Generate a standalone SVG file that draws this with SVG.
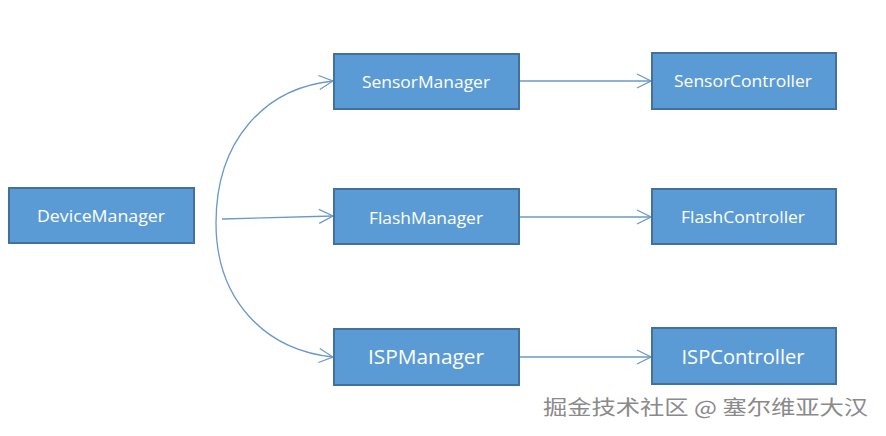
<svg xmlns="http://www.w3.org/2000/svg" width="886" height="436" viewBox="0 0 886 436">
<defs>
<marker id="arr" viewBox="0 0 16 16" refX="15" refY="8" markerWidth="16" markerHeight="16" markerUnits="userSpaceOnUse" orient="auto">
<path d="M1,1 L15,8 L1,15" fill="none" stroke="#6A99C9" stroke-width="1.2"/>
</marker>
</defs>
<style>
.box{fill:#5B9BD5;stroke:#41719C;stroke-width:2}
.lbl{font-family:"Open Sans","Liberation Sans",sans-serif;fill:#fff;text-anchor:middle}
.s{font-size:17px}
.l{font-size:20px}
.con{fill:none;stroke:#6A99C9;stroke-width:1.3}
.wm{font-family:"Noto Sans CJK SC","Liberation Sans",sans-serif;font-size:20px;fill:#8a8a8a;stroke:#fff;stroke-width:0.6;paint-order:stroke}
</style>
<rect width="886" height="436" fill="#fff"/>
<g id="connectors">
<path class="con" d="M216,223 C216,140 265,88 333,81" marker-end="url(#arr)"/>
<path class="con" d="M222,219 L333,216" marker-end="url(#arr)"/>
<path class="con" d="M216,223 C216,300 265,350 333,357" marker-end="url(#arr)"/>
<path class="con" d="M519,81 L651,81" marker-end="url(#arr)"/>
<path class="con" d="M519,217 L651,217" marker-end="url(#arr)"/>
<path class="con" d="M519,357 L651,357" marker-end="url(#arr)"/>
</g>
<g id="DeviceManager"><rect class="box" x="9" y="188" width="185" height="55"/><text class="lbl s" x="101" y="222" textLength="128" lengthAdjust="spacingAndGlyphs">DeviceManager</text></g>
<g id="SensorManager"><rect class="box" x="334" y="54" width="185" height="55"/><text class="lbl s" x="426" y="88" textLength="128" lengthAdjust="spacingAndGlyphs">SensorManager</text></g>
<g id="FlashManager"><rect class="box" x="334" y="189" width="185" height="55"/><text class="lbl s" x="426" y="224" textLength="114" lengthAdjust="spacingAndGlyphs">FlashManager</text></g>
<g id="ISPManager"><rect class="box" x="334" y="329" width="185" height="56"/><text class="lbl l" x="426" y="364" textLength="116" lengthAdjust="spacingAndGlyphs">ISPManager</text></g>
<g id="SensorController"><rect class="box" x="652" y="53" width="184" height="56"/><text class="lbl s" x="743" y="87" textLength="138" lengthAdjust="spacingAndGlyphs">SensorController</text></g>
<g id="FlashController"><rect class="box" x="652" y="189" width="184" height="55"/><text class="lbl s" x="743" y="223" textLength="124" lengthAdjust="spacingAndGlyphs">FlashController</text></g>
<g id="ISPController"><rect class="box" x="652" y="328" width="184" height="56"/><text class="lbl l" x="743" y="364" textLength="123" lengthAdjust="spacingAndGlyphs">ISPController</text></g>
<text class="wm" x="543" y="415" textLength="325" lengthAdjust="spacingAndGlyphs">掘金技术社区 @ 塞尔维亚大汉</text>
</svg>
